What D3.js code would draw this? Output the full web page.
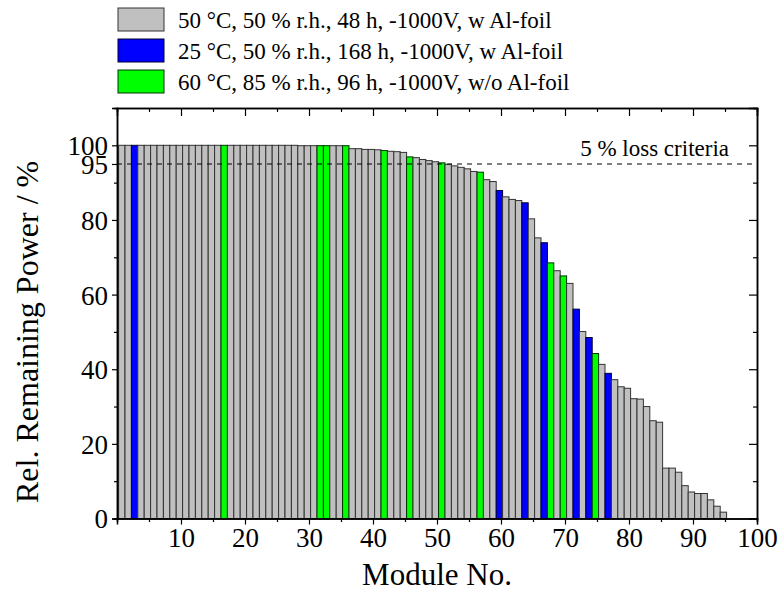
<!DOCTYPE html>
<html>
<head>
<meta charset="utf-8">
<script src="https://cdn.jsdelivr.net/npm/d3@7"></script>
<style>
  html, body { margin: 0; padding: 0; background: #fff; }
  svg text { font-family: "Liberation Serif", "Times New Roman", serif; fill: #000; }
</style>
</head>
<body>
<div id="chart"></div>
<script>
// relative remaining power per module, sorted high to low (module 1..95)
const remainingPower = [
  100, 100, 100, 100, 100, 100, 100, 100, 100, 100,
  100, 100, 100, 100, 100, 100, 100, 100, 100, 100,
  100, 100, 100, 100, 100, 100, 100, 100, 99.9, 99.9,
  99.9, 99.9, 99.9, 99.9, 99.9, 99.9, 99.1, 99.1, 98.9, 98.9,
  98.8, 98.6, 98.4, 98.3, 98.1, 96.9, 96.7, 96.2, 95.9, 95.6,
  95.3, 94.9, 94.5, 94.1, 93.7, 93.0, 92.8, 90.8, 90.3, 87.9,
  86.2, 85.5, 85.2, 84.6, 80.3, 75.2, 73.9, 68.5, 66.4, 65.0,
  63.0, 56.1, 50.1, 48.5, 44.2, 41.3, 38.9, 37.2, 35.3, 34.9,
  32.1, 32.0, 30.0, 26.2, 25.8, 13.5, 13.5, 12.4, 8.8, 7.1,
  6.7, 6.7, 5.0, 3.3, 1.7,
];
// modules that ran under the other two test conditions
const blueModules = [3, 60, 64, 67, 72, 74, 77];
const greenModules = [17, 32, 33, 36, 42, 46, 51, 57, 68, 70, 75];

const legendLabels = [
  "50 °C, 50 % r.h., 48 h, -1000V, w Al-foil",
  "25 °C, 50 % r.h., 168 h, -1000V, w Al-foil",
  "60 °C, 85 % r.h., 96 h, -1000V, w/o Al-foil",
];
const xTicks = [10, 20, 30, 40, 50, 60, 70, 80, 90, 100];
const yTicks = [0, 20, 40, 60, 80, 95, 100];
const lossCriteria = 95;

const W = 781, H = 599;
const FILL = ["#c0c0c0", "#0000ff", "#00ff00"];
const EDGE = ["#333333", "#000033", "#003300"];

const x = d3.scaleLinear().domain([0, 100]).range([117, 757]);
const y = d3.scaleLinear().domain([0, 110]).range([518.5, 108]);

const groupOf = (m) => (blueModules.includes(m) ? 1 : greenModules.includes(m) ? 2 : 0);
const bars = remainingPower.map((v, i) => ({ module: i + 1, value: v, group: groupOf(i + 1) }));

const svg = d3.select("#chart").append("svg").attr("width", W).attr("height", H);

// bars
const bw = x(1) - x(0);
svg.append("g").selectAll("rect").data(bars).join("rect")
  .attr("x", (d) => x(d.module - 0.25) - bw / 2)
  .attr("y", (d) => y(d.value))
  .attr("width", bw)
  .attr("height", (d) => y(0) - y(d.value))
  .attr("fill", (d) => FILL[d.group])
  .attr("stroke", (d) => EDGE[d.group])
  .attr("stroke-width", 1);

// 5 % loss line
svg.append("line")
  .attr("x1", x(0)).attr("x2", x(100))
  .attr("y1", y(lossCriteria)).attr("y2", y(lossCriteria))
  .attr("stroke", "#000").attr("stroke-width", 1.2).attr("stroke-dasharray", "5,5");
svg.append("text")
  .attr("x", 729).attr("y", y(lossCriteria) - 8)
  .attr("text-anchor", "end").attr("font-size", 23)
  .text("5 % loss criteria");

// frame + axes
const axBottom = svg.append("g").attr("transform", `translate(0,${y(0)})`)
  .call(d3.axisBottom(x).tickValues(xTicks).tickSize(6).tickPadding(3).tickFormat(d3.format("d")));
axBottom.append("g").call(d3.axisBottom(x).tickValues(d3.range(5, 100, 10)).tickSize(3.5).tickFormat(""));
const axLeft = svg.append("g").attr("transform", `translate(${x(0)},0)`)
  .call(d3.axisLeft(y).tickValues(yTicks).tickSize(5).tickPadding(4).tickFormat(d3.format("d")));
axLeft.append("g").call(d3.axisLeft(y).tickValues([10, 30, 50, 70, 90]).tickSize(3).tickFormat(""));
const axTop = svg.append("g").attr("transform", `translate(0,${y(110)})`)
  .call(d3.axisBottom(x).tickValues(xTicks).tickSize(8).tickFormat(""));
axTop.append("g").call(d3.axisBottom(x).tickValues(d3.range(5, 100, 10)).tickSize(4).tickFormat(""));
const axRight = svg.append("g").attr("transform", `translate(${x(100)},0)`)
  .call(d3.axisLeft(y).tickValues([0, 20, 40, 60, 80, 100]).tickSize(8).tickFormat(""));
axRight.append("g").call(d3.axisLeft(y).tickValues([10, 30, 50, 70, 90]).tickSize(4).tickFormat(""));

[axBottom, axLeft, axTop, axRight].forEach((g) => {
  g.selectAll(".domain").attr("stroke", "#000").attr("stroke-width", 1.5);
  g.selectAll(".tick line").attr("stroke", "#000").attr("stroke-width", 1.2);
  g.selectAll("text").attr("font-size", 27).attr("font-family", "Liberation Serif").attr("fill", "#000");
});
axLeft.selectAll(".tick text").attr("dy", "0.35em");

// axis titles
svg.append("text")
  .attr("x", x(50)).attr("y", 585)
  .attr("text-anchor", "middle").attr("font-size", 31)
  .text("Module No.");
svg.append("text")
  .attr("transform", `translate(38,${y(50)}) rotate(-90)`)
  .attr("text-anchor", "middle").attr("font-size", 32)
  .text("Rel. Remaining Power / %");

// legend
const legend = svg.append("g").selectAll("g").data(legendLabels).join("g")
  .attr("transform", (d, i) => `translate(118,${8 + i * 31})`);
legend.append("rect")
  .attr("width", 46).attr("height", 23)
  .attr("fill", (d, i) => FILL[i])
  .attr("stroke", (d, i) => EDGE[i]).attr("stroke-width", 1);
legend.append("text")
  .attr("x", 60).attr("y", 20)
  .attr("font-size", 23)
  .text((d) => d);
</script>
</body>
</html>
